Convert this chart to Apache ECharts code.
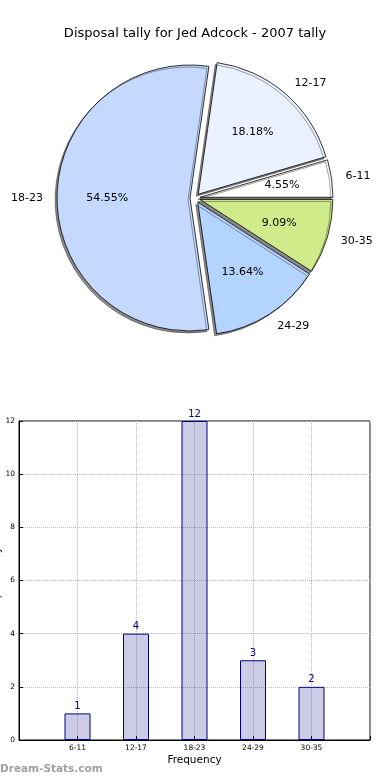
<!DOCTYPE html>
<html><head><meta charset="utf-8">
<script src="https://cdn.jsdelivr.net/npm/echarts@6/dist/echarts.min.js"></script>
<style>html,body{margin:0;padding:0;background:#fff}#c{width:390px;height:780px}</style>
</head><body><div id="c"></div>
<script>
const categories = ['6-11', '12-17', '18-23', '24-29', '30-35'];
const tallies = [1, 4, 12, 3, 2];
const sliceColors = ['#ffffff', '#eaf1ff', '#c5d9ff', '#b3d4ff', '#d0eb8a'];
const titleText = 'Disposal tally for Jed Adcock - 2007 tally';

const total = tallies.reduce((a, b) => a + b, 0);
const FONT = 'DejaVu Sans';
const R = 133;
const CENTER = [195, 198];
const chart = echarts.init(document.getElementById('c'), null, { renderer: 'canvas' });

const pieData = categories.map((c, i) => ({ name: c, value: tallies[i], selected: true, itemStyle: { color: sliceColors[i] } }));
const labelData = categories.map((c, i) => ({ name: c, value: tallies[i], selected: true }));
const sliceStyle = { borderColor: '#000', borderWidth: 0.8, shadowColor: 'rgba(0,0,0,0.45)', shadowBlur: 0, shadowOffsetX: -2, shadowOffsetY: 2 };

chart.setOption({
  animation: false,
  title: {
    text: titleText, left: 'center', top: 22,
    textStyle: { fontFamily: FONT, fontSize: 13, fontWeight: 'normal', color: '#000' }
  },
  graphic: [{
    type: 'text', left: 0, top: 764,
    style: { text: 'Dream-Stats.com', fill: '#a0a0a0', font: 'bold 10.5px "DejaVu Sans"' }
  }],
  grid: { left: 19, right: 20, top: 421, bottom: 40, show: true, borderColor: '#000', borderWidth: 1, containLabel: false, outerBoundsMode: 'none' },
  xAxis: {
    type: 'value', min: 0, max: 6, interval: 1,
    axisLine: { show: true, lineStyle: { color: '#000' } },
    axisTick: { show: true, inside: true, length: 4, lineStyle: { color: '#000' } },
    axisLabel: { formatter: v => categories[v - 1] || '', fontSize: 7.5, color: '#000', fontFamily: FONT, margin: 4 },
    splitLine: { show: true, lineStyle: { type: 'dotted', color: '#bbb' } },
    name: 'Frequency', nameLocation: 'middle', nameGap: 15,
    nameTextStyle: { fontSize: 10.5, fontFamily: FONT, color: '#000' }
  },
  yAxis: {
    type: 'value', min: 0, max: 12, interval: 2,
    axisLine: { show: true, lineStyle: { color: '#000' } },
    axisTick: { show: true, inside: true, length: 4, lineStyle: { color: '#000' } },
    axisLabel: { fontSize: 7.5, color: '#000', fontFamily: FONT, margin: 4 },
    splitLine: { show: true, lineStyle: { type: 'dotted', color: '#bbb' } },
    name: 'Disposal tally', nameLocation: 'middle', nameRotate: 90, nameGap: 17, nameMoveOverlap: false,
    nameTextStyle: { fontSize: 10, fontFamily: FONT, color: '#000' }
  },
  series: [
    {
      type: 'pie', center: CENTER, radius: R, startAngle: 0, clockwise: false,
      selectedMode: 'multiple', selectedOffset: 5, avoidLabelOverlap: false,
      data: pieData,
      itemStyle: sliceStyle,
      select: { itemStyle: sliceStyle },
      emphasis: { disabled: true },
      label: { show: true, position: 'outside', formatter: '{b}', fontFamily: FONT, fontSize: 11, color: '#000', distanceToLabelLine: 0 },
      labelLine: { show: false, length: 14, length2: 0 }
    },
    {
      type: 'pie', center: CENTER, radius: R * 1.2, startAngle: 0, clockwise: false,
      selectedMode: 'multiple', selectedOffset: 5, avoidLabelOverlap: false, silent: true,
      data: labelData,
      itemStyle: { color: 'rgba(0,0,0,0)', borderWidth: 0 },
      select: { itemStyle: { color: 'rgba(0,0,0,0)', borderWidth: 0 } },
      emphasis: { disabled: true },
      label: {
        show: true, position: 'inside', fontFamily: FONT, fontSize: 11, color: '#000',
        formatter: p => (p.value / total * 100).toFixed(2) + '%'
      },
      labelLine: { show: false }
    },
    {
      type: 'bar',
      data: categories.map((c, i) => [i + 1, tallies[i]]),
      barWidth: 26,
      itemStyle: { color: 'rgba(0,0,128,0.2)', borderColor: '#000080', borderWidth: 1 },
      label: { show: true, position: 'top', distance: 2, color: '#000080', fontSize: 10, fontFamily: FONT },
      emphasis: { disabled: true }
    }
  ]
});
</script></body></html>
